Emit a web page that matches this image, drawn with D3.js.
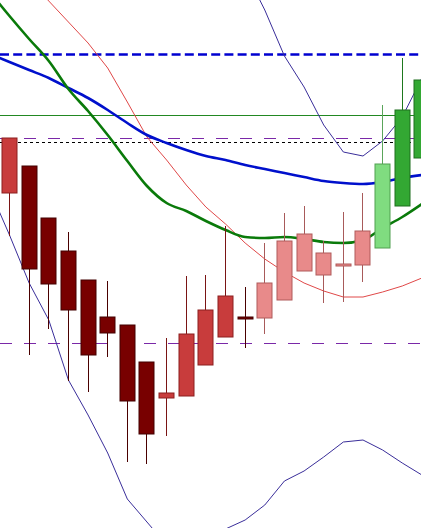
<!DOCTYPE html>
<html><head><meta charset="utf-8">
<script src="https://cdn.jsdelivr.net/npm/d3@7"></script>
<style>html,body{margin:0;padding:0;background:#fff;overflow:hidden}</style>
</head><body>
<svg id="chart" width="421" height="528"></svg>
<script>
// ---- data (bar 0 is just left of the visible area) ----
const bars = ["B00","B01","B02","B03","B04","B05","B06","B07","B08","B09","B10","B11","B12","B13","B14","B15","B16","B17","B18","B19","B20","B21","B22"];
const open  = [null,139.0,136.2,131.0,127.7,124.8,121.1,120.3,116.6,113.5,113.2,116.3,119.1,121.1,121.0,122.8,125.7,125.3,126.2,126.3,128.0,132.2,137.0];
const close = [null,133.5,125.9,124.4,121.8,117.3,119.5,112.7,109.4,113.0,119.4,121.8,123.2,120.9,124.5,128.7,129.4,127.5,126.4,129.7,136.4,141.8,144.8];
const high  = [null,139.0,136.2,131.0,129.6,124.8,124.7,120.3,116.6,119.0,125.2,125.3,130.2,124.1,128.5,131.5,132.2,128.7,131.6,133.5,142.3,147.0,144.8];
const low   = [null,129.2,117.3,119.9,114.7,113.6,117.1,106.6,106.4,109.2,113.2,116.3,119.1,118.0,119.4,122.8,125.7,122.5,122.6,124.6,128.0,132.2,137.0];
const tone  = [null,"red","dark","dark","dark","dark","dark","dark","dark","red","red","red","red","dark","pink","pink","pink","pink","pink","pink","lightgreen","green","green"];

const maBlue  = [147.4,146.6,145.8,145.0,144.0,143.0,141.8,140.5,139.3,138.5,137.8,137.2,136.8,136.3,135.9,135.5,135.1,134.7,134.5,134.4,134.6,135.0,135.3];
const maGreen = [153.6,151.2,148.9,146.7,143.9,141.7,139.3,136.7,134.2,132.5,131.7,130.7,129.8,129.1,129.0,129.1,128.9,128.6,128.5,128.8,130.0,131.1,132.4];
const maRed   = [158.8,156.8,154.7,152.7,150.6,148.5,146.0,142.6,139.1,136.8,134.3,132.1,130.4,128.5,126.9,125.6,124.5,123.7,123.1,123.1,123.6,124.2,125.0];
const bandUpper = [164.8,165.3,165.8,166.3,166.8,167.8,168.8,169.3,169.8,168.8,166.8,163.3,159.6,155.7,151.8,147.2,144.1,140.3,137.6,137.2,138.7,141.1,145.0];
const bandLower = [133.8,129.3,124.5,120.8,114.8,111.3,107.5,102.9,100.6,98.3,97.3,98.0,99.9,100.8,102.3,104.7,105.7,107.1,108.6,108.8,107.8,106.5,105.3];

const levelBlue = 147.35;
const levelGreen = 141.25;
const levelPurpleHigh = 138.95;
const levelBlack = 138.55;
const levelPurpleLow = 118.45;

// ---- styles ----
const W = 421, H = 528;
const fills   = {dark:"#780000", red:"#c83c3c", pink:"#e88a8a", lightgreen:"#80dc80", green:"#33a833"};
const borders = {dark:"#420000", red:"#8c1e1e", pink:"#b05a5a", lightgreen:"#50a050", green:"#1e6e1e"};
const wicks   = {dark:"#4a0000", red:"#7a1414", pink:"#a85a5a", lightgreen:"#5aa55a", green:"#1e781e"};

const svg = d3.select("#chart");
const x = d3.scalePoint().domain(bars).range([-10.14, 421.9]);
const y = d3.scaleLinear().domain([100, 152.8]).range([H, 0]);

const px = b => Math.floor(x(b)) + 0.5;

// horizontal levels
function level(v, color, width, dash) {
  svg.append("line").attr("x1",0).attr("x2",W).attr("y1",y(v)).attr("y2",y(v))
    .attr("stroke",color).attr("stroke-width",width).attr("stroke-dasharray",dash||null);
}
level(levelGreen, "#228822", 1);
level(levelPurpleHigh, "#7a28a8", 1, "12,12");
level(levelBlack, "#000000", 1, "3,3");
level(levelPurpleLow, "#7a28a8", 1, "12,12");
level(levelBlue, "#0000d0", 2.6, "9,4.2");

// indicator lines
function series(vals, color, width, curve) {
  const line = d3.line().x((d,i) => x(bars[i])).y(d => y(d)).curve(curve || d3.curveLinear);
  svg.append("path").datum(vals).attr("d", line).attr("fill","none")
    .attr("stroke",color).attr("stroke-width",width).attr("stroke-linejoin","round");
}
series(bandUpper, "#3a2e9a", 1);
series(bandLower, "#3a2e9a", 1);
series(maRed, "#e04848", 1);
series(maBlue, "#0010cc", 2.6, d3.curveMonotoneX);
series(maGreen, "#0a7a0a", 2.6, d3.curveMonotoneX);

// candles
const idx = d3.range(bars.length).filter(i => open[i] !== null);
const g = svg.append("g");
g.selectAll("line.wick").data(idx).join("line").attr("class","wick")
  .attr("x1", i => px(bars[i])).attr("x2", i => px(bars[i]))
  .attr("y1", i => y(high[i])).attr("y2", i => y(low[i]))
  .attr("stroke", i => wicks[tone[i]]).attr("stroke-width",1);
g.selectAll("rect.body").data(idx).join("rect").attr("class","body")
  .attr("x", i => px(bars[i]) - 7.5)
  .attr("width", 15)
  .attr("y", i => y(Math.max(open[i], close[i])))
  .attr("height", i => Math.max(1.5, Math.abs(y(open[i]) - y(close[i]))))
  .attr("fill", i => fills[tone[i]])
  .attr("stroke", i => borders[tone[i]]).attr("stroke-width",1);
</script>
</body></html>
